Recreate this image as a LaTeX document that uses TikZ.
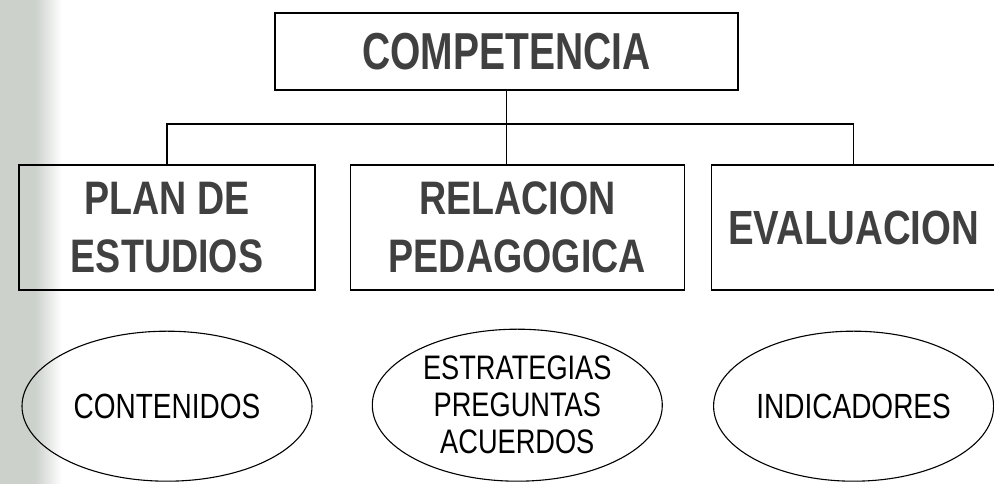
\documentclass[tikz,border=0pt]{standalone}
\usepackage{fontspec}
\setmainfont{Liberation Sans}
\newfontfamily\condfont[FakeStretch=0.8]{Liberation Sans}
\newfontfamily\topfont[FakeStretch=0.75]{Liberation Sans}
\usepackage{tikz}
\usetikzlibrary{shapes.geometric, positioning}
\definecolor{headgray}{rgb}{0.25,0.25,0.25}
\definecolor{gutter}{rgb}{0.80,0.82,0.80}

\begin{document}
\begin{tikzpicture}[x=1pt, y=1pt,
    box/.style={rectangle, draw, line width=1.3pt, minimum height=125pt, inner sep=0pt, align=center, text=headgray, font=\condfont\bfseries\fontsize{47}{58}\selectfont},
    oval/.style={ellipse, draw, line width=1.1pt, minimum width=290pt, minimum height=150pt, inner sep=0pt, align=center, font=\condfont\fontsize{35}{37}\selectfont},
    link/.style={line width=1.3pt}
]
\useasboundingbox (0,0) rectangle (994,484);
\fill[gutter] (0,0) rectangle (35,484);
\shade[left color=gutter, right color=white] (35,0) rectangle (62,484);

\node[box, minimum width=463pt, minimum height=77pt, font=\topfont\bfseries\fontsize{52}{60}\selectfont] (comp) at (506.5,432.5) {COMPETENCIA};

\node[box, minimum width=296pt] (plan) at (167,256.5) {PLAN DE\\ESTUDIOS};
\node[box, minimum width=334pt, right=34pt of plan] (rel) {RELACION\\PEDAGOGICA};
\node[box, minimum width=284pt, right=26pt of rel, font=\condfont\bfseries\fontsize{48}{58}\selectfont] (eval) {EVALUACION};

\node[oval, below=40pt of plan] (cont) {CONTENIDOS};
\node[oval, below=38pt of rel, minimum height=152pt, font=\condfont\fontsize{34}{37}\selectfont] (estr) {ESTRATEGIAS\\PREGUNTAS\\ACUERDOS};
\node[oval, below=40pt of eval, minimum width=280pt] (ind) {INDICADORES};

\coordinate (bus) at (0,360);
\draw[link] (plan.north) -- (plan.north |- bus) -- (eval.north |- bus) -- (eval.north);
\draw[link] (comp.south) -- (comp.south |- rel.north);

\end{tikzpicture}
\end{document}
